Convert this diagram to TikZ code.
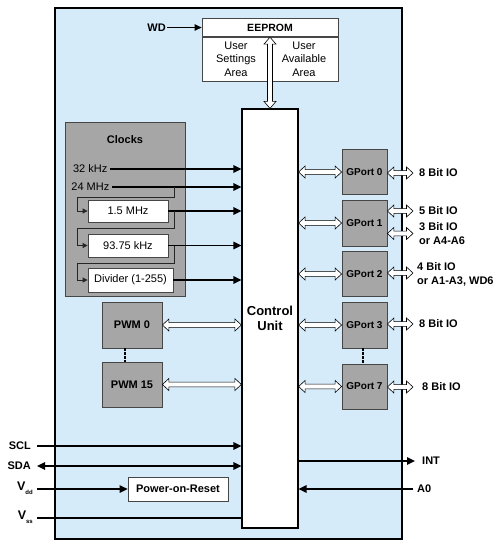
\documentclass[tikz,border=0pt]{standalone}
\usepackage{fontspec}
\setmainfont{Liberation Sans}
\usetikzlibrary{arrows.meta,calc}
\definecolor{bgblue}{RGB}{214,235,250}
\definecolor{boxgray}{RGB}{166,166,166}
\definecolor{edgegray}{RGB}{70,70,70}
\newcommand\hollowH[2]{%
  \draw[hollow] let \p1=(#1), \p2=(#2) in
    (\x1,\y1) -- (\x1+6.5pt,\y1+6pt) -- (\x1+6.5pt,\y1+2.4pt) -- (\x2-6.5pt,\y1+2.4pt)
    -- (\x2-6.5pt,\y1+6pt) -- (\x2,\y1) -- (\x2-6.5pt,\y1-6pt) -- (\x2-6.5pt,\y1-2.4pt)
    -- (\x1+6.5pt,\y1-2.4pt) -- (\x1+6.5pt,\y1-6pt) -- cycle;}
\newcommand\hollowV[2]{%
  \draw[hollow] let \p1=(#1), \p2=(#2) in
    (\x1,\y1) -- (\x1+6pt,\y1-7pt) -- (\x1+2.5pt,\y1-7pt) -- (\x1+2.5pt,\y2+7pt)
    -- (\x1+6pt,\y2+7pt) -- (\x1,\y2) -- (\x1-6pt,\y2+7pt) -- (\x1-2.5pt,\y2+7pt)
    -- (\x1-2.5pt,\y1-7pt) -- (\x1-6pt,\y1-7pt) -- cycle;}
\begin{document}
\begin{tikzpicture}[x=1pt,y=-1pt,
  outerbox/.style={draw=black, line width=1.8pt, fill=bgblue, inner sep=0},
  wbox/.style={draw=edgegray, fill=white, line width=0.8pt, inner sep=0, font=\fontsize{11}{13.5}\selectfont, align=center},
  gbox/.style={draw=edgegray, fill=boxgray, line width=0.8pt, inner sep=0, font=\bfseries\fontsize{10}{12}\selectfont},
  lab/.style={font=\bfseries\fontsize{11}{14}\selectfont, inner sep=1pt},
  reg/.style={font=\fontsize{11}{13.5}\selectfont, inner sep=2.5pt},
  sig/.style={line width=1.4pt, -{Triangle[length=8pt,width=7.5pt]}},
  route/.style={line width=0.8pt, draw=black!85, -{Triangle[length=5pt,width=5pt]}},
  hollow/.style={draw=black, fill=white, line width=0.6pt, line join=miter}
]
\useasboundingbox (0,0) rectangle (500,558);

% outer chip
\node[outerbox, minimum width=347pt, minimum height=531pt] (chip) at (228.5,273.5) {};

% EEPROM
\node[wbox, font=\bfseries\fontsize{10.5}{12}\selectfont, minimum width=136pt, minimum height=18.5pt] (ee) at (270,27.5) {EEPROM};
\node[wbox, minimum width=68pt, minimum height=44pt] (us) at (236,59) {User\\Settings\\Area};
\node[wbox, minimum width=68pt, minimum height=44pt] (ua) at (304,59) {User\\Available\\Area};
\node[lab, anchor=east] (wd) at (167,27.5) {WD};
\draw[sig, line width=1pt, -{Triangle[length=7pt,width=6.5pt]}] (wd.east) -- (ee.west);

% control unit
\node[draw=black, line width=1.2pt, fill=white, minimum width=56pt, minimum height=419pt, inner sep=0,
      font=\bfseries\fontsize{13}{14.5}\selectfont, align=center] (cu) at (270,318.5) {Control\\Unit};
\hollowV{ee.south}{cu.north}

% clocks
\node[draw=edgegray, fill=boxgray, line width=0.8pt, minimum width=120pt, minimum height=174pt, inner sep=0] (clk) at (125,209) {};
\node[lab] (clkt) at (125,140) {Clocks};
\node[reg, anchor=east] (k32) at (110,169) {32 kHz};
\node[reg, anchor=east] (k24) at (112,187) {24 MHz};
\node[wbox, minimum width=80pt, minimum height=22pt] (b15) at (128,211) {1.5 MHz};
\node[wbox, minimum width=80pt, minimum height=23pt] (b93) at (128,245.5) {93.75 kHz};
\node[wbox, minimum width=85pt, minimum height=24pt] (bdiv) at (130.5,280) {Divider (1-255)};
\draw[sig] (k32.east) -- (cu.west |- k32.east);
\draw[sig] (k24.east) -- (cu.west |- k24.east);
\draw[sig] (b15.east) -- (cu.west |- b15.east);
\draw[sig] (b93.east) -- (cu.west |- b93.east);
\draw[sig] (bdiv.east) -- (cu.west |- bdiv.east);
\coordinate (j1) at (174,187);
\coordinate (j2) at (174,211);
\coordinate (j3) at (174,245.5);
\draw[route] (j1) -- (174,197) -- (77,197) -- (77,211) -- (b15.west);
\draw[route] (j2) -- (174,228) -- (77,228) -- (77,245.5) -- (b93.west);
\draw[route] (j3) -- (174,263) -- (77,263) -- (77,280) -- (bdiv.west);

% PWM
\node[gbox, font=\bfseries\fontsize{11}{13}\selectfont, minimum width=60pt, minimum height=46pt] (p0) at (132,325) {PWM 0};
\node[gbox, font=\bfseries\fontsize{11}{13}\selectfont, minimum width=60pt, minimum height=45pt] (p15) at (132,384.5) {PWM 15};
\draw[dashed, line width=1.2pt, dash pattern=on 2.5pt off 1.5pt] (p0.south -| 125,0) -- (p15.north -| 125,0);
\hollowH{p0.east}{cu.west |- p0.east}
\hollowH{p15.east}{cu.west |- p15.east}

% GPorts
\node[gbox, minimum width=45pt, minimum height=45pt] (g0) at (364.5,172) {GPort 0};
\node[gbox, minimum width=45pt, minimum height=46pt] (g1) at (364.5,223) {GPort 1};
\node[gbox, minimum width=45pt, minimum height=45pt] (g2) at (364.5,274) {GPort 2};
\node[gbox, minimum width=45pt, minimum height=46pt] (g3) at (364.5,325) {GPort 3};
\node[gbox, minimum width=45pt, minimum height=45pt] (g7) at (364.5,386.5) {GPort 7};
\draw[dashed, line width=1.2pt, dash pattern=on 2.5pt off 1.5pt] (g3.south -| 363,0) -- (g7.north -| 363,0);
\hollowH{cu.east |- g0.west}{g0.west}
\hollowH{cu.east |- g1.west}{g1.west}
\hollowH{cu.east |- g2.west}{g2.west}
\hollowH{cu.east |- g3.west}{g3.west}
\hollowH{cu.east |- g7.west}{g7.west}

\coordinate (io0) at (413,173);
\coordinate (io1a) at (413,211);
\coordinate (io1b) at (413,233.5);
\coordinate (io2) at (413,273);
\coordinate (io3) at (413,324);
\coordinate (io7) at (413,387);
\hollowH{g0.east |- io0}{io0}
\hollowH{g1.east |- io1a}{io1a}
\hollowH{g1.east |- io1b}{io1b}
\hollowH{g2.east |- io2}{io2}
\hollowH{g3.east |- io3}{io3}
\hollowH{g7.east |- io7}{io7}
\node[lab, anchor=west] (l0) at (418,173) {8 Bit IO};
\node[lab, anchor=west] (l1a) at (418,211) {5 Bit IO};
\node[lab, anchor=west, align=left] (l1b) at (418,234) {3 Bit IO\\or A4-A6};
\node[lab, anchor=west, align=left] (l2) at (416,274) {4 Bit IO\\or A1-A3, WD6};
\node[lab, anchor=west] (l3) at (418,324) {8 Bit IO};
\node[lab, anchor=west] (l7) at (421,387) {8 Bit IO};

% bottom signals
\node[lab, anchor=east] (scl) at (32,446) {SCL};
\node[lab, anchor=east] (sda) at (32,466) {SDA};
\node[lab, anchor=east] (vdd) at (34,488) {\fontsize{12.5}{14}\selectfont V\raisebox{-3.5pt}{\fontsize{6}{6}\selectfont dd}};
\node[lab, anchor=east] (vss) at (34,517) {\fontsize{12.5}{14}\selectfont V\raisebox{-3.5pt}{\fontsize{6}{6}\selectfont ss}};
\node[wbox, font=\bfseries\fontsize{11}{13}\selectfont, minimum width=100pt, minimum height=24pt] (por) at (178,489) {Power-on-Reset};
\coordinate (sclS) at (37,446);
\coordinate (sdaS) at (37,466);
\coordinate (vddS) at (37,489);
\coordinate (vssS) at (37,518);
\draw[sig] (sclS) -- (cu.west |- sclS);
\draw[sig, {Triangle[length=8pt,width=7.5pt]}-{Triangle[length=8pt,width=7.5pt]}] (sdaS) -- (cu.west |- sdaS);
\draw[sig] (vddS) -- (por.west);
\draw[line width=1.4pt] (vssS) -- (cu.west |- vssS);

\coordinate (intE) at (415,461);
\coordinate (a0S) at (413,489);
\draw[sig] (cu.east |- intE) -- (intE);
\draw[sig] (a0S) -- (cu.east |- a0S);
\node[lab, anchor=west] (intl) at (421,461) {INT};
\node[lab, anchor=west] (a0l) at (416,489) {A0};
\end{tikzpicture}
\end{document}
